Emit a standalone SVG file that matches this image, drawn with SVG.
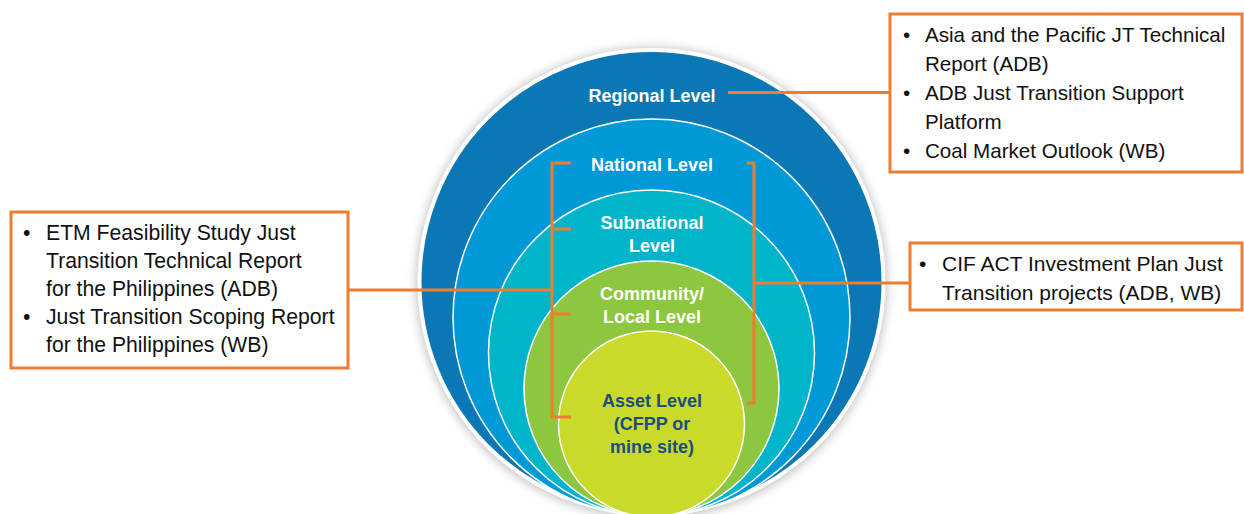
<svg xmlns="http://www.w3.org/2000/svg" width="1244" height="514" viewBox="0 0 1244 514">
<style>
.lvl{font-family:"Liberation Sans",Arial,sans-serif;font-weight:bold;font-size:18px;fill:#ffffff;text-anchor:middle}
.asset{fill:#1B4F7E}
.box{fill:#ffffff;stroke:#ED7D31;stroke-width:3}
.txt{font-family:"Liberation Sans",Arial,sans-serif;font-size:20.6px;fill:#111111}
.txt-l{font-size:21.2px}
.txt-r{font-size:21px}
.conn{fill:none;stroke:#ED7D31;stroke-width:3}
.ring{stroke:#ffffff;stroke-width:1.5}
</style>
<defs>
<filter id="sh" x="-20%" y="-20%" width="140%" height="140%">
<feGaussianBlur stdDeviation="5"/>
</filter>
</defs>
<rect width="1244" height="514" fill="#ffffff"/>
<g id="circles">
<circle cx="651.5" cy="283" r="236" fill="#9a9a9a" opacity="0.55" filter="url(#sh)"/>
<circle id="regional" cx="651.5" cy="282" r="232" fill="#0B78B5" stroke="#ffffff" stroke-width="4"/>
<circle id="national" class="ring" cx="651.5" cy="317.5" r="198.5" fill="#0099D7"/>
<circle id="subnational" class="ring" cx="651.5" cy="353" r="163" fill="#00B4C9"/>
<circle id="community" class="ring" cx="651.5" cy="388.5" r="127.5" fill="#8DC63F"/>
<circle id="asset" class="ring" cx="651.5" cy="424" r="93" fill="#C9DA2B"/>
</g>
<g id="level-labels">
<text class="lvl" x="652" y="102">Regional Level</text>
<text class="lvl" x="652" y="171">National Level</text>
<text class="lvl" x="652" y="229">Subnational</text>
<text class="lvl" x="652" y="252">Level</text>
<text class="lvl" x="652" y="300">Community/</text>
<text class="lvl" x="652" y="323">Local Level</text>
<text class="lvl asset" x="652" y="407">Asset Level</text>
<text class="lvl asset" x="652" y="430">(CFPP or</text>
<text class="lvl asset" x="652" y="453">mine site)</text>
</g>
<g id="connectors">
<path class="conn" d="M728 92.5 H890"/>
<path class="conn" d="M571 163 H552 V417 H571 M552 229 H571 M552 314 H571"/>
<path class="conn" d="M552 290 H349"/>
<path class="conn" d="M747 163 H754 V403 H747"/>
<path class="conn" d="M754 283 H910"/>
</g>
<g id="box-regional">
<rect class="box" x="890" y="14" width="352" height="158"/>
<text class="txt" x="903" y="42">•</text>
<text class="txt" x="925" y="42">Asia and the Pacific JT Technical</text>
<text class="txt" x="925" y="71">Report (ADB)</text>
<text class="txt" x="903" y="100">•</text>
<text class="txt" x="925" y="100">ADB Just Transition Support</text>
<text class="txt" x="925" y="129">Platform</text>
<text class="txt" x="903" y="158">•</text>
<text class="txt" x="925" y="158">Coal Market Outlook (WB)</text>
</g>
<g id="box-national-left">
<rect class="box" x="11" y="212" width="337" height="156"/>
<text class="txt txt-l" x="23" y="240">•</text>
<text class="txt txt-l" x="46" y="240">ETM Feasibility Study Just</text>
<text class="txt txt-l" x="46" y="268">Transition Technical Report</text>
<text class="txt txt-l" x="46" y="296">for the Philippines (ADB)</text>
<text class="txt txt-l" x="23" y="324">•</text>
<text class="txt txt-l" x="46" y="324">Just Transition Scoping Report</text>
<text class="txt txt-l" x="46" y="352">for the Philippines (WB)</text>
</g>
<g id="box-national-right">
<rect class="box" x="910" y="243" width="332" height="67"/>
<text class="txt txt-r" x="919" y="271">•</text>
<text class="txt txt-r" x="942" y="271">CIF ACT Investment Plan Just</text>
<text class="txt txt-r" x="942" y="300">Transition projects (ADB, WB)</text>
</g>
</svg>
